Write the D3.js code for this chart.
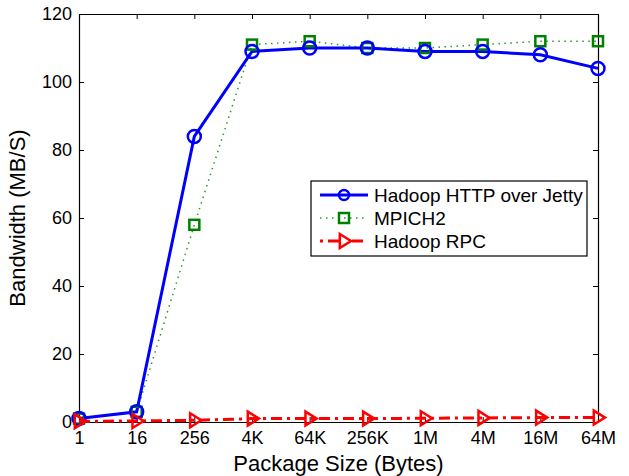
<!DOCTYPE html>
<html><head><meta charset="utf-8">
<script src="https://cdn.jsdelivr.net/npm/d3@7"></script>
<style>body{margin:0;background:#fff}svg{display:block}text{font-family:"Liberation Sans",Arial,sans-serif}</style>
</head><body>
<svg id="c" width="629" height="476"></svg>
<script>
const categories = ["1","16","256","4K","64K","256K","1M","4M","16M","64M"];
const hadoopHttp = [1,3,84,109,110,110,109,109,108,104];
const mpich2 = [1,3,58,111,112,110,110,111,112,112];
const hadoopRpc = [0.2,0.3,0.5,1,1,1,1.1,1.2,1.3,1.3];
const yTicks = [0,20,40,60,80,100,120];
const seriesNames = ["Hadoop HTTP over Jetty","MPICH2","Hadoop RPC"];

const svg = d3.select("#c");
const L=79,R=598,T=14,B=422;
const x = d3.scalePoint().domain(categories).range([L,R]);
const y = d3.scaleLinear().domain([0,120]).range([B,T]);

const gx = svg.append("g").attr("transform",`translate(0,${B})`)
  .call(d3.axisBottom(x).tickSizeInner(-5).tickSizeOuter(0).tickPadding(9));
const gxt = svg.append("g").attr("transform",`translate(0,${T})`)
  .call(d3.axisTop(x).tickSizeInner(-5).tickSizeOuter(0).tickFormat(""));
const gy = svg.append("g").attr("transform",`translate(${L},0)`)
  .call(d3.axisLeft(y).tickValues(yTicks).tickSizeInner(-5).tickSizeOuter(0).tickPadding(7));
const gyr = svg.append("g").attr("transform",`translate(${R},0)`)
  .call(d3.axisRight(y).tickValues(yTicks).tickSizeInner(-5).tickSizeOuter(0).tickFormat(""));
[gx,gxt,gy,gyr].forEach(g=>{g.select(".domain").attr("stroke","#000").attr("stroke-width",1.2);
  g.selectAll(".tick line").attr("stroke","#000");
  g.selectAll("text").attr("font-size",18).attr("fill","#000").attr("font-family","Liberation Sans, Arial, sans-serif");});

svg.append("text").attr("x",(L+R)/2).attr("y",471).attr("text-anchor","middle").attr("font-size",22).text("Package Size (Bytes)");
svg.append("text").attr("transform",`translate(25,${(T+B)/2}) rotate(-90)`).attr("text-anchor","middle").attr("font-size",22).text("Bandwidth (MB/S)");

const line = d3.line().x((d,i)=>x(categories[i])).y(d=>y(d));
function triPath(cx,cy,s){return `M${cx-s*0.6},${cy-s}L${cx+s},${cy}L${cx-s*0.6},${cy+s}Z`;}

svg.append("path").datum(mpich2).attr("d",line).attr("fill","none").attr("stroke","#2a9a2a").attr("stroke-width",1.5).attr("stroke-dasharray","1.5,4.5");
svg.append("path").datum(hadoopHttp).attr("d",line).attr("fill","none").attr("stroke","#0000ff").attr("stroke-width",3);
svg.append("path").datum(hadoopRpc).attr("d",line).attr("fill","none").attr("stroke","#ff0000").attr("stroke-width",3).attr("stroke-dasharray","11,5,3,5");

svg.append("g").selectAll("rect").data(mpich2).join("rect")
  .attr("x",(d,i)=>x(categories[i])-5).attr("y",d=>y(d)-5).attr("width",10).attr("height",10)
  .attr("fill","none").attr("stroke","#008000").attr("stroke-width",2.5);
svg.append("g").selectAll("circle").data(hadoopHttp).join("circle")
  .attr("cx",(d,i)=>x(categories[i])).attr("cy",d=>y(d)).attr("r",6.5)
  .attr("fill","none").attr("stroke","#0000ff").attr("stroke-width",2.5);
svg.append("g").selectAll("path").data(hadoopRpc).join("path")
  .attr("d",(d,i)=>triPath(x(categories[i]),y(d),7))
  .attr("fill","none").attr("stroke","#ff0000").attr("stroke-width",2.5);

const lg = svg.append("g");
lg.append("rect").attr("x",311).attr("y",181).attr("width",276).attr("height",75).attr("fill","#fff").attr("stroke","#000").attr("stroke-width",1.2);
const rows=[195,218,241];
lg.append("line").attr("x1",320).attr("x2",368).attr("y1",rows[0]).attr("y2",rows[0]).attr("stroke","#0000ff").attr("stroke-width",3);
lg.append("circle").attr("cx",344).attr("cy",rows[0]).attr("r",5).attr("fill","none").attr("stroke","#0000ff").attr("stroke-width",2.5);
lg.append("line").attr("x1",320).attr("x2",368).attr("y1",rows[1]).attr("y2",rows[1]).attr("stroke","#2a9a2a").attr("stroke-width",1.5).attr("stroke-dasharray","1.5,4.5");
lg.append("rect").attr("x",339).attr("y",rows[1]-5).attr("width",10).attr("height",10).attr("fill","none").attr("stroke","#008000").attr("stroke-width",2.5);
lg.append("line").attr("x1",320).attr("x2",368).attr("y1",rows[2]).attr("y2",rows[2]).attr("stroke","#ff0000").attr("stroke-width",3).attr("stroke-dasharray","3,5,11,5");
lg.append("path").attr("d",triPath(344,rows[2],7)).attr("fill","#fff").attr("stroke","#ff0000").attr("stroke-width",2.5);
seriesNames.forEach((n,i)=>lg.append("text").attr("x",374).attr("y",rows[i]+6.5).attr("font-size",19).text(n));
</script>
</body></html>
